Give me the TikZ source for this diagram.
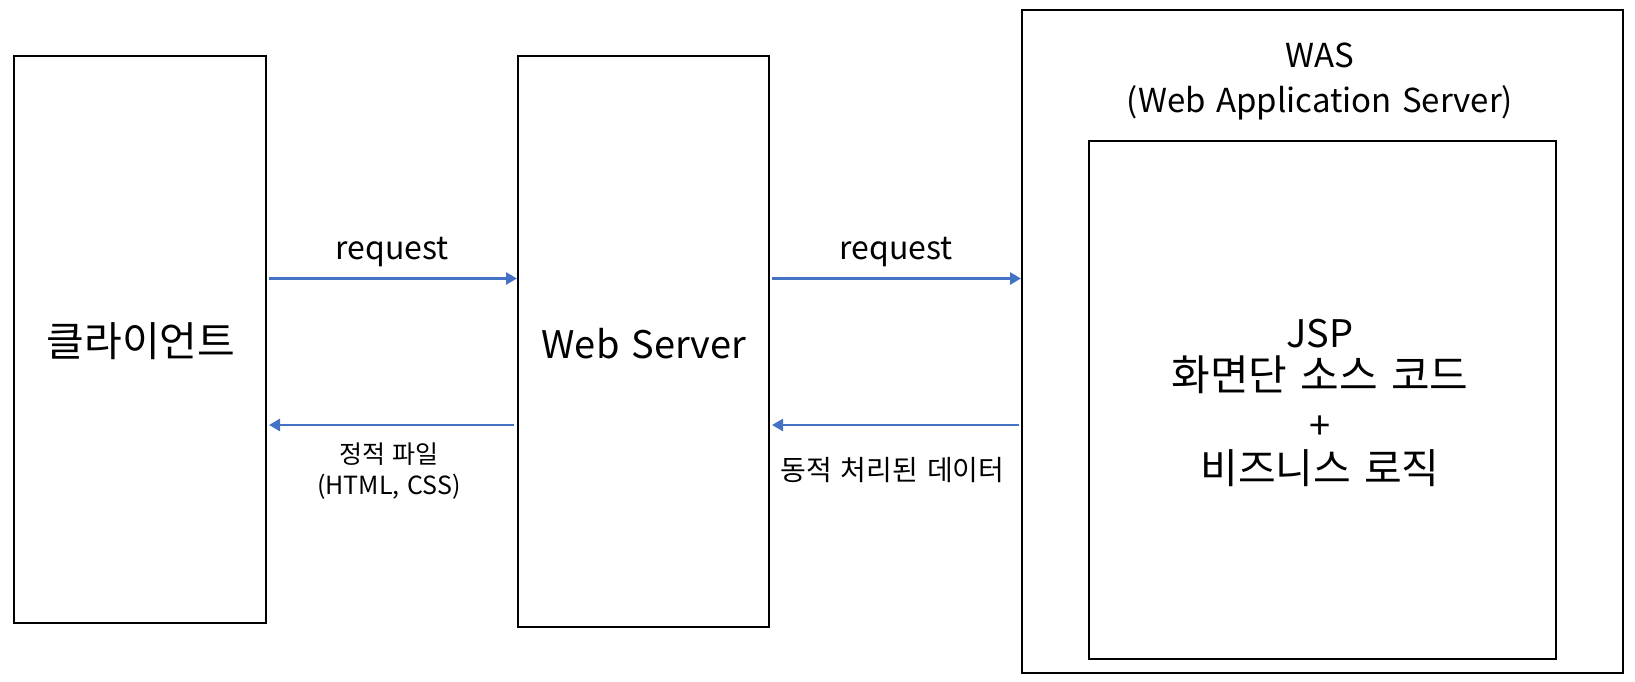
\documentclass[tikz,border=0pt]{standalone}
\usepackage{fontspec}
\setmainfont[WordSpace=1.4]{Noto Sans CJK KR}
\usetikzlibrary{arrows.meta}
\definecolor{flow}{HTML}{4472C4}
\begin{document}
\begin{tikzpicture}[x=1pt,y=-1pt,
  box/.style={draw, line width=2pt, inner sep=0pt},
  flowarrow/.style={draw=flow, line width=2.6pt, -{Triangle[length=11pt,width=12pt]}},
  txt/.style={inner sep=0pt, align=center},
  row/.style={txt, text height=8pt, text depth=2pt}
]
\path[use as bounding box] (0,0) rectangle (1635,682);

% boxes
\node[box, minimum width=252pt, minimum height=567pt] (client) at (140,339.5) {};
\node[box, minimum width=251pt, minimum height=571pt] (web) at (643.5,341.5) {};
\node[box, minimum width=601pt, minimum height=662pt] (was) at (1322.5,341.5) {};
\node[box, minimum width=467pt, minimum height=518pt] (core) at (1322,400) {};

% box texts
\node[txt, font=\fontsize{41}{48}\selectfont] (clienttxt) at (141,341) {클라이언트};
\node[txt, font=\fontsize{38}{46}\selectfont] (webtxt) at (644,344) {Web Server};
\node[txt, font=\fontsize{33}{45}\selectfont] (wastxt) at (1320,81) {WAS\\(Web Application Server)};
\node[row, font=\fontsize{38}{44}\selectfont] (jsp) at (1320,344) {JSP};
\node[row, font=\fontsize{42}{48}\selectfont] (screen) at (1320,387.5) {화면단 소스 코드};
\node[row, font=\fontsize{38}{44}\selectfont] (plus) at (1320,436.5) {+};
\node[row, font=\fontsize{41}{48}\selectfont] (logic) at (1320,480) {비즈니스 로직};

% connector levels
\coordinate (up) at (0,278.5);
\coordinate (down) at (0,425);

% arrows
\draw[flowarrow] ([xshift=2pt]client.east |- up) -- (web.west |- up);
\draw[flowarrow] ([xshift=-3pt]web.west |- down) -- ([xshift=2pt]client.east |- down);
\draw[flowarrow] ([xshift=2pt]web.east |- up) -- (was.west |- up);
\draw[flowarrow] ([xshift=-2pt]was.west |- down) -- ([xshift=2pt]web.east |- down);

% arrow labels
\node[txt, font=\fontsize{32}{40}\selectfont] (req1) at (392,252) {request};
\node[txt, font=\fontsize{32}{40}\selectfont] (req2) at (896,252) {request};
\node[txt, font=\fontsize{25}{31}\selectfont] (static) at (389,471) {정적 파일\\(HTML, CSS)};
\node[txt, font=\fontsize{28}{34}\selectfont] (dynamic) at (892.5,470) {동적 처리된 데이터};
\end{tikzpicture}
\end{document}
